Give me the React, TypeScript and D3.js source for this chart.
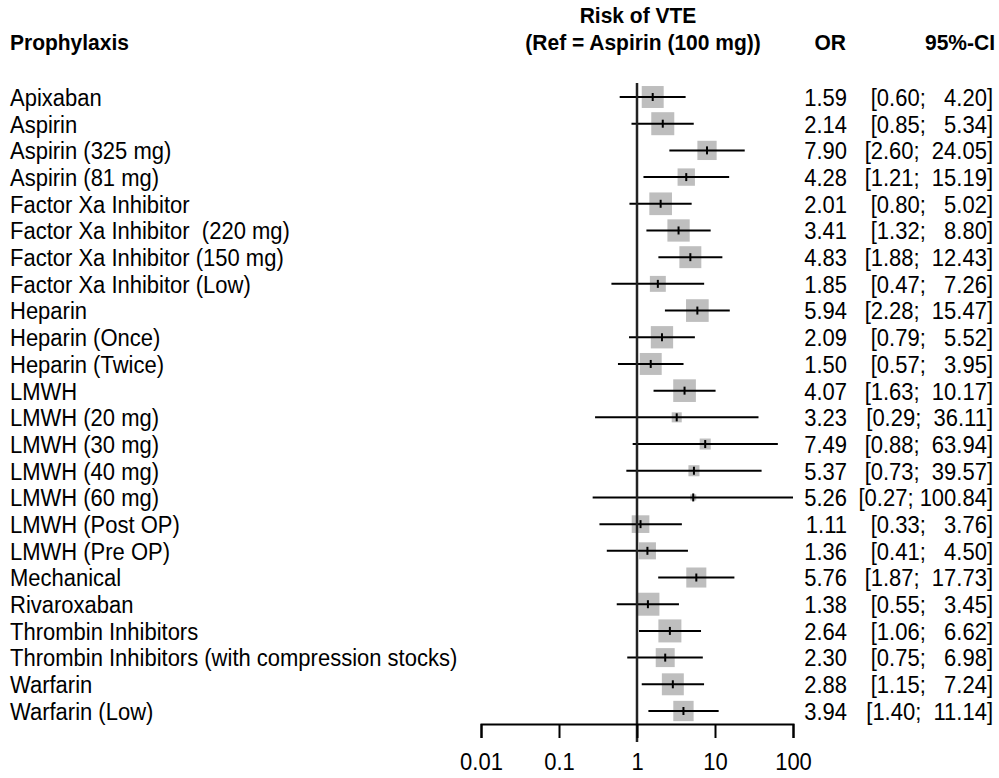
import React, { useEffect, useRef } from 'react';
import * as d3 from 'd3';

const prophylaxis = [
  'Apixaban', 'Aspirin', 'Aspirin (325 mg)', 'Aspirin (81 mg)', 'Factor Xa Inhibitor',
  'Factor Xa Inhibitor  (220 mg)', 'Factor Xa Inhibitor (150 mg)', 'Factor Xa Inhibitor (Low)',
  'Heparin', 'Heparin (Once)', 'Heparin (Twice)', 'LMWH', 'LMWH (20 mg)', 'LMWH (30 mg)',
  'LMWH (40 mg)', 'LMWH (60 mg)', 'LMWH (Post OP)', 'LMWH (Pre OP)', 'Mechanical',
  'Rivaroxaban', 'Thrombin Inhibitors', 'Thrombin Inhibitors (with compression stocks)',
  'Warfarin', 'Warfarin (Low)',
];
const oddsRatio = [1.59, 2.14, 7.90, 4.28, 2.01, 3.41, 4.83, 1.85, 5.94, 2.09, 1.50, 4.07, 3.23, 7.49, 5.37, 5.26, 1.11, 1.36, 5.76, 1.38, 2.64, 2.30, 2.88, 3.94];
const ciLower = [0.60, 0.85, 2.60, 1.21, 0.80, 1.32, 1.88, 0.47, 2.28, 0.79, 0.57, 1.63, 0.29, 0.88, 0.73, 0.27, 0.33, 0.41, 1.87, 0.55, 1.06, 0.75, 1.15, 1.40];
const ciUpper = [4.20, 5.34, 24.05, 15.19, 5.02, 8.80, 12.43, 7.26, 15.47, 5.52, 3.95, 10.17, 36.11, 63.94, 39.57, 100.84, 3.76, 4.50, 17.73, 3.45, 6.62, 6.98, 7.24, 11.14];
// relative study weight
const weights = [91, 100, 70, 57, 97, 94, 91, 48, 97, 94, 91, 97, 19, 23, 23, 7, 59, 55, 76, 100, 100, 68, 91, 78];
const tickValues = [0.01, 0.1, 1, 10, 100];

const W = 999, H = 778;
const FONT = 'Arial, "Liberation Sans", Helvetica, sans-serif';
const STRETCH = 1.12; // source image text is a bit taller than wide

const fmt = (v: number) => v.toFixed(2);

export default function App() {
  const svgRef = useRef<SVGSVGElement>(null);

  useEffect(() => {
    const svg = d3.select(svgRef.current);
    svg.selectAll('*').remove();

    const x = d3.scaleLog().domain([0.01, 100]).range([481, 793]);
    const y = d3.scalePoint<string>().domain(prophylaxis).range([97, 711]);
    const box = d3.scaleSqrt().domain([0, 100]).range([0, 23]);

    const g = svg.append('g').style('font-family', FONT).style('fill', '#000');

    const header = (tx: number, ty: number, anchor: string, label: string) =>
      g.append('text')
        .attr('transform', `translate(${tx},${ty}) scale(1,1.05)`)
        .attr('text-anchor', anchor)
        .style('font-weight', 'bold')
        .style('font-size', '21px')
        .text(label);

    header(10, 50, 'start', 'Prophylaxis');
    header(638, 23, 'middle', 'Risk of VTE');
    header(643, 50, 'middle', '(Ref = Aspirin (100 mg))');
    header(846, 50, 'end', 'OR');
    header(995, 50, 'end', '95%-CI');

    const rows = g.selectAll('g.row')
      .data(prophylaxis)
      .enter()
      .append('g')
      .attr('class', 'row');

    const rowText = (tx: number, anchor: string, label: (d: string, i: number) => string) =>
      rows.append('text')
        .attr('transform', (d) => `translate(${tx},${y(d)}) scale(1,${STRETCH})`)
        .attr('dy', '0.36em')
        .attr('text-anchor', anchor)
        .style('font-size', '22px')
        .style('white-space', 'pre')
        .text(label);

    rowText(10, 'start', (d) => d);
    rowText(847, 'end', (d, i) => fmt(oddsRatio[i]));
    // upper limits padded to a common width, as in the source table
    const upWidth = d3.max(ciUpper, (v) => fmt(v).length)!;
    rowText(993, 'end', (d, i) => '[' + fmt(ciLower[i]) + '; ' + fmt(ciUpper[i]).padStart(upWidth, ' ') + ']');

    // boxes
    rows.append('rect')
      .attr('x', (d, i) => x(oddsRatio[i]) - box(weights[i]) / 2)
      .attr('y', (d, i) => y(d)! - box(weights[i]) / 2)
      .attr('width', (d, i) => box(weights[i]))
      .attr('height', (d, i) => box(weights[i]))
      .attr('fill', '#bebebe');

    // reference line
    g.append('line')
      .attr('x1', x(1)).attr('x2', x(1))
      .attr('y1', 83).attr('y2', 742)
      .attr('stroke', '#222')
      .attr('stroke-width', 2.5);

    // confidence intervals
    rows.append('line')
      .attr('x1', (d, i) => x(ciLower[i]))
      .attr('x2', (d, i) => x(Math.min(ciUpper[i], 100)))
      .attr('y1', (d) => y(d)!)
      .attr('y2', (d) => y(d)!)
      .attr('stroke', '#000')
      .attr('stroke-width', 2);

    rows.append('line')
      .attr('x1', (d, i) => x(oddsRatio[i]))
      .attr('x2', (d, i) => x(oddsRatio[i]))
      .attr('y1', (d) => y(d)! - 4)
      .attr('y2', (d) => y(d)! + 4)
      .attr('stroke', '#000')
      .attr('stroke-width', 2);

    // axis
    const axis = d3.axisBottom(x)
      .tickValues(tickValues)
      .tickFormat((d) => String(d))
      .tickSize(14);

    const ax = g.append('g').attr('transform', 'translate(0,724)').call(axis);
    ax.select('.domain').attr('stroke', '#000').attr('stroke-width', 2);
    ax.selectAll('.tick line').attr('stroke', '#000').attr('stroke-width', 2);
    ax.selectAll('.tick text')
      .attr('y', null)
      .attr('dy', '0.36em')
      .attr('transform', `translate(0,37) scale(1,${STRETCH})`)
      .style('font-size', '22px')
      .style('font-family', FONT)
      .attr('fill', '#000');
  }, []);

  return (
    <div style={{ position: 'absolute', left: 0, top: 0 }}>
      <svg ref={svgRef} width={W} height={H} style={{ background: '#fff', display: 'block' }} />
    </div>
  );
}
